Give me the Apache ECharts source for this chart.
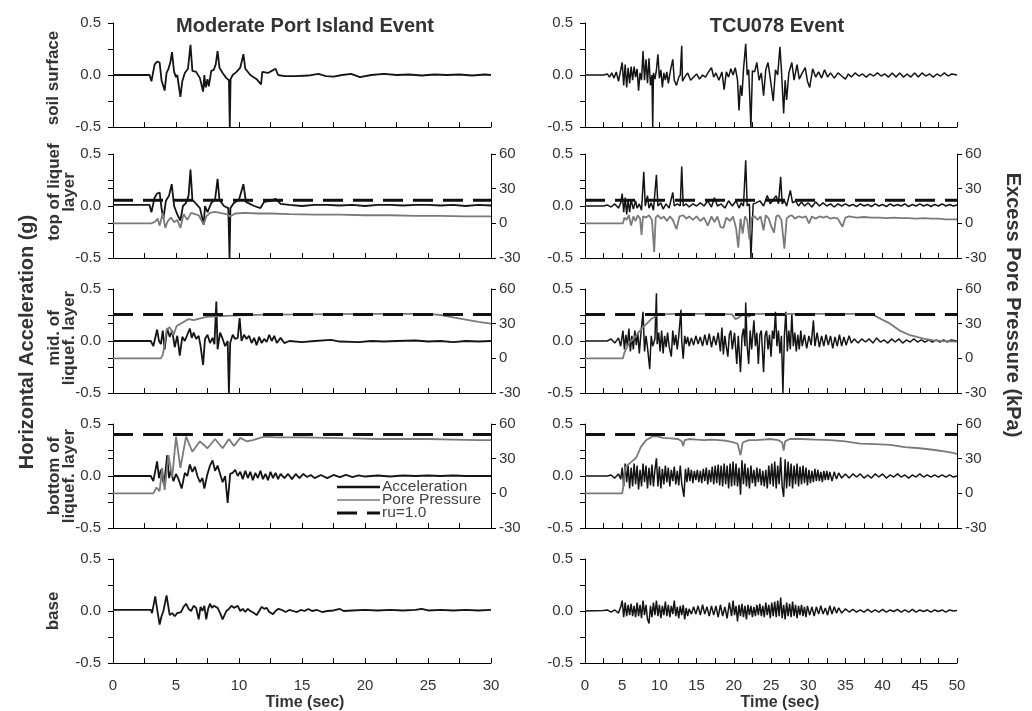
<!DOCTYPE html>
<html><head><meta charset="utf-8">
<script src="https://cdn.jsdelivr.net/npm/echarts@6/dist/echarts.min.js"></script>
<style>html,body{margin:0;padding:0;background:#fff}#c{width:1032px;height:711px}</style>
</head><body><div id="c"></div>
<script>
// ---------- text ----------
const titles = ['Moderate Port Island Event', 'TCU078 Event'];
const rowLabels = [['soil surface'], ['top of liquef', 'layer'], ['mid. of', 'liquef. layer'], ['bottom of', 'liquef. layer'], ['base']];
const yTitleLeft = 'Horizontal Acceleration (g)';
const yTitleRight = 'Excess Pore Pressure (kPa)';
const xTitle = 'Time (sec)';
const legendNames = ['Acceleration', 'Pore Pressure', 'ru=1.0'];
// ---------- ticks ----------
const accTickLabels = ['-0.5', '0.0', '0.5'];
const ppTickLabels = ['-30', '0', '30', '60'];
const timeTickLabelsL = ['0', '5', '10', '15', '20', '25', '30'];
const timeTickLabelsR = ['0', '5', '10', '15', '20', '25', '30', '35', '40', '45', '50'];
const timeMax = [30, 50];
// ru = 1.0 levels (kPa) for rows 2-4
const ruLevels = [null, 20, 38, 51, null];

// ---------- Moderate Port Island Event (left) ----------
const accL1 = [[0,0],[2.9,0],[3.05,-0.06],[3.3,0.1],[3.5,0.13],[3.7,0.12],[3.85,-0.05],[4.1,-0.15],[4.25,0.02],[4.4,0.06],[4.55,0.12],[4.68,0.22],[4.85,0.03],[5.0,-0.02],[5.1,0.0],[5.35,-0.21],[5.5,-0.06],[5.7,0.02],[5.95,0.06],[6.15,0.29],[6.3,0.04],[6.6,0.03],[6.9,-0.03],[7.15,-0.16],[7.25,0.0],[7.35,-0.12],[7.5,-0.04],[7.6,-0.11],[7.8,0.04],[8.0,0.05],[8.15,0.1],[8.3,0.23],[8.45,0.07],[8.7,0.02],[9.0,-0.03],[9.2,-0.05],[9.27,-0.5],[9.33,-0.04],[9.5,0.0],[9.8,0.03],[10.1,0.07],[10.35,0.2],[10.5,0.06],[10.9,0.0],[11.4,-0.04],[11.75,-0.09],[11.85,0.03],[12.3,0.02],[12.6,0.04],[12.9,0.06],[13.1,0.0],[13.6,-0.01],[14.5,-0.01],[15.5,-0.005],[16.3,0.01],[16.9,-0.01],[17.5,-0.015],[18.2,0.0],[18.9,0.01],[19.6,-0.02],[20.5,0.0],[21.5,0.01],[22.5,0.0],[23.5,0.005],[24.5,-0.005],[25.5,0.005],[26.5,0.0],[27.5,0.005],[28.5,-0.005],[29.5,0.005],[30,0.0]];
const accL2 = [[0,0.01],[2.9,0.01],[3.05,-0.06],[3.3,0.08],[3.5,0.12],[3.7,0.13],[3.85,-0.02],[4.0,-0.12],[4.2,0.05],[4.45,0.1],[4.66,0.21],[4.85,0.0],[5.1,-0.08],[5.35,-0.14],[5.55,0.0],[5.8,0.03],[6.0,0.1],[6.15,0.35],[6.3,0.06],[6.6,0.02],[6.9,-0.02],[7.2,-0.18],[7.3,0.0],[7.5,-0.06],[7.8,0.03],[8.1,0.06],[8.3,0.26],[8.45,0.06],[8.8,0.0],[9.15,-0.02],[9.25,-0.5],[9.32,-0.02],[9.6,0.03],[10.0,0.06],[10.35,0.21],[10.55,0.04],[11.2,0.0],[11.7,-0.02],[12.0,0.04],[12.5,0.05],[12.9,0.07],[13.3,0.02],[14,0.01],[15,0.0],[16,0.01],[17,0.01],[18,0.005],[19,0.01],[20,0.0],[21,0.01],[22,0.01],[23,0.005],[24,0.01],[25,0.01],[26,0.005],[27,0.01],[28,0.0],[29,0.01],[30,0.005]];
const ppL2 = [[0,0],[3.0,0],[3.3,1],[3.55,4],[3.7,-2],[3.95,9],[4.15,-4],[4.35,2],[4.6,5],[4.85,1],[5.1,3],[5.35,-4],[5.6,8],[5.9,3],[6.2,9],[6.5,8],[6.8,7],[7.2,-1],[7.4,6],[7.7,9],[8.1,10],[8.5,9],[9.0,8],[9.3,6],[9.7,8.5],[10.5,9],[11.5,8.5],[12.5,8.5],[14,8],[16,7.5],[18,7.5],[20,7],[22,7],[24,6.5],[26,6.5],[28,6],[30,6]];
const accL3 = [[0,0],[3.0,0],[3.2,-0.05],[3.5,0.11],[3.65,0.0],[3.8,-0.03],[3.95,0.1],[4.1,-0.08],[4.3,0.12],[4.5,0.04],[4.7,0.1],[4.9,-0.06],[5.1,0.05],[5.3,-0.14],[5.5,0.04],[5.7,0.0],[5.9,0.06],[6.1,0.12],[6.25,0.03],[6.4,0.08],[6.6,0.02],[6.8,0.05],[6.95,-0.05],[7.15,-0.23],[7.3,0.02],[7.5,0.06],[7.7,-0.02],[7.9,0.03],[8.05,-0.03],[8.2,0.38],[8.3,-0.08],[8.5,0.08],[8.7,0.02],[8.9,-0.05],[9.1,0.0],[9.2,-0.5],[9.3,-0.02],[9.5,0.06],[9.7,0.02],[9.9,0.03],[10.05,0.22],[10.2,0.0],[10.4,0.06],[10.6,0.02],[10.8,0.05],[11.0,-0.02],[11.2,0.03],[11.4,-0.04],[11.6,0.04],[11.8,-0.02],[12.0,0.02],[12.2,-0.01],[12.4,0.06],[12.6,0.0],[12.8,0.05],[13.0,-0.02],[13.3,0.03],[13.6,-0.02],[14.0,0.0],[15,-0.01],[16,0.0],[17.3,0.01],[18,-0.005],[19.5,-0.01],[20.5,0.0],[21.5,-0.005],[22.5,0.0],[24,0.005],[25,-0.005],[26,0.0],[27,-0.01],[28,0.0],[29,-0.005],[30,0.0]];
const ppL3 = [[0,0],[3.8,0],[3.95,3],[4.1,12],[4.26,25],[4.5,27],[4.8,20],[5.05,28],[5.6,31.5],[6.0,34],[6.4,33],[7.4,35.8],[8.5,36.5],[10,37.2],[12,37.8],[15,38],[20,38.5],[25,38.5],[26,37.5],[27,35.5],[28,33.5],[29,31.5],[30,30]];
const accL4 = [[0,0],[3.0,0],[3.2,-0.05],[3.5,0.14],[3.65,-0.02],[3.8,0.06],[4.05,-0.09],[4.3,0.2],[4.45,-0.02],[4.6,0.05],[4.8,-0.05],[5.0,0.02],[5.2,-0.03],[5.45,-0.12],[5.7,0.03],[5.9,0.0],[6.1,0.11],[6.3,0.04],[6.5,0.09],[6.7,0.0],[6.9,-0.06],[7.1,-0.02],[7.25,-0.12],[7.5,0.02],[7.7,0.1],[7.9,0.15],[8.1,0.05],[8.3,0.1],[8.5,0.02],[8.7,-0.06],[8.9,0.0],[9.1,-0.26],[9.3,0.02],[9.5,0.03],[9.7,0.06],[9.9,0.0],[10.1,0.04],[10.3,-0.03],[10.5,0.05],[10.7,-0.02],[10.9,0.04],[11.1,-0.04],[11.3,0.03],[11.5,-0.02],[11.7,0.05],[11.9,-0.03],[12.1,0.02],[12.3,-0.04],[12.5,0.04],[12.7,-0.02],[12.9,0.03],[13.1,-0.03],[13.3,0.02],[13.6,-0.02],[13.9,0.02],[14.2,-0.03],[14.5,0.02],[14.8,-0.02],[15.1,0.02],[15.4,-0.01],[15.7,0.01],[16.0,-0.02],[16.5,0.01],[17.0,-0.02],[17.5,0.01],[18.0,-0.01],[18.5,0.01],[19.0,-0.01],[19.5,0.005],[20,-0.005],[21,0.005],[22,-0.005],[23,0.005],[24,0.0],[25,0.005],[26,0.0],[27,0.005],[28,0.0],[29,0.0],[30,0.0]];
const ppL4 = [[0,0],[3.2,0],[3.45,5],[3.7,2],[3.9,22],[4.1,3],[4.4,33],[4.7,14],[5.0,49],[5.35,22],[5.8,49],[6.3,36],[6.9,45],[7.5,39],[8.1,47],[8.7,39],[9.2,47],[9.6,41],[10.1,48],[10.6,45],[11.1,46],[12,49],[13,48.5],[15,48.5],[17,48],[19,47.5],[21,47],[23,47],[25,47],[27,46.5],[29,46],[30,46]];
const accL5 = [[0,0.01],[3.0,0.01],[3.1,-0.02],[3.35,0.14],[3.5,0.02],[3.7,-0.13],[3.85,-0.05],[4.0,0.0],[4.25,0.15],[4.5,-0.04],[4.7,-0.02],[4.9,-0.05],[5.1,-0.02],[5.4,-0.01],[5.6,0.04],[5.8,0.07],[6.0,0.02],[6.2,0.0],[6.4,0.05],[6.6,0.03],[6.8,-0.08],[6.95,0.04],[7.1,0.0],[7.25,0.05],[7.4,-0.08],[7.55,0.02],[7.7,0.07],[7.85,0.03],[8.0,0.05],[8.3,0.03],[8.5,-0.02],[8.7,-0.08],[8.85,-0.04],[9.0,0.0],[9.2,0.02],[9.4,0.05],[9.6,0.03],[9.9,0.05],[10.1,0.0],[10.3,0.02],[10.5,-0.01],[10.7,0.02],[10.9,0.0],[11.2,-0.02],[11.4,-0.04],[11.6,0.0],[11.8,0.04],[12.0,0.02],[12.2,0.03],[12.4,-0.01],[12.7,-0.03],[12.9,0.0],[13.1,0.02],[13.4,0.01],[13.7,-0.01],[14.0,0.01],[14.3,0.0],[14.6,-0.01],[14.9,0.01],[15.2,0.0],[15.5,0.02],[15.8,0.0],[16.2,0.01],[16.6,-0.01],[17.0,0.0],[17.5,0.005],[18.0,0.02],[18.3,0.0],[19,0.005],[20,0.01],[21,0.005],[22,0.01],[23,0.005],[24,0.01],[24.5,0.02],[25,0.005],[26,0.01],[27,0.005],[28,0.01],[29,0.005],[30,0.01]];

// ---------- TCU078 Event (right) ----------
const accR1 = [[0,0],[2.5,0],[3.0,0.01],[3.3,-0.02],[3.6,0.02],[3.9,-0.03],[4.2,0.03],[4.5,-0.06],[4.8,0.05],[5.0,0.12],[5.2,-0.1],[5.4,0.1],[5.6,-0.12],[5.8,0.07],[6.0,-0.08],[6.2,0.08],[6.4,-0.05],[6.6,0.08],[6.8,-0.02],[7.0,0.06],[7.2,-0.15],[7.4,0.02],[7.6,-0.05],[7.8,0.23],[8.0,-0.05],[8.2,0.15],[8.4,-0.08],[8.6,0.16],[8.8,-0.1],[9.0,0.0],[9.1,-0.5],[9.2,0.02],[9.4,-0.04],[9.6,0.05],[9.8,0.2],[10.0,-0.03],[10.2,0.05],[10.4,-0.12],[10.6,0.02],[10.8,-0.05],[11.0,0.03],[11.2,-0.08],[11.5,0.05],[11.8,0.15],[12.0,-0.05],[12.3,-0.1],[12.6,-0.02],[12.8,0.0],[13.0,0.28],[13.1,-0.06],[13.4,-0.02],[13.8,0.02],[14.2,-0.05],[14.6,-0.02],[15.0,0.01],[15.4,-0.04],[15.8,0.0],[16.2,-0.02],[16.6,0.03],[17.0,0.07],[17.3,-0.02],[17.6,0.02],[18.0,-0.05],[18.4,0.03],[18.7,-0.14],[19.0,0.03],[19.3,-0.02],[19.6,0.06],[19.9,0.0],[20.2,0.07],[20.5,-0.05],[20.7,-0.34],[20.9,-0.1],[21.1,-0.2],[21.3,0.05],[21.6,0.3],[21.8,0.0],[22.0,0.05],[22.3,-0.5],[22.5,0.04],[22.8,0.03],[23.1,0.12],[23.4,-0.05],[23.7,0.02],[24.0,-0.2],[24.3,0.05],[24.6,0.12],[24.9,-0.03],[25.3,-0.25],[25.6,0.05],[25.9,0.0],[26.2,0.27],[26.4,0.05],[26.7,-0.37],[26.9,-0.05],[27.1,-0.24],[27.4,0.02],[27.8,0.12],[28.1,-0.05],[28.5,0.1],[28.8,-0.04],[29.2,0.02],[29.6,0.07],[29.9,-0.06],[30.2,-0.12],[30.6,0.06],[31.0,-0.02],[31.4,0.03],[31.8,-0.03],[32.2,0.05],[32.6,-0.02],[33.0,0.02],[33.5,-0.03],[34.0,0.02],[34.5,-0.01],[35.0,-0.04],[35.4,0.01],[35.8,-0.02],[36.3,0.02],[36.8,-0.01],[37.3,0.01],[37.8,-0.02],[38.3,0.01],[38.8,-0.01],[39.3,0.02],[39.8,-0.01],[40.3,0.01],[40.8,-0.02],[41.3,0.02],[41.8,-0.02],[42.3,0.02],[42.8,-0.02],[43.3,0.01],[43.8,-0.02],[44.3,0.02],[44.8,-0.02],[45.3,0.02],[45.8,-0.01],[46.3,0.01],[46.8,-0.02],[47.3,0.01],[47.8,-0.01],[48.3,0.02],[48.8,-0.01],[49.3,0.01],[50,0.0]];
const accR2 = [[0,0],[2.5,0],[3.0,0.01],[3.5,-0.01],[4.0,0.02],[4.5,-0.02],[4.8,0.03],[5.0,0.12],[5.2,-0.06],[5.4,0.08],[5.6,-0.08],[5.8,0.06],[6.0,-0.06],[6.2,0.06],[6.5,-0.03],[6.8,0.05],[7.0,-0.02],[7.3,0.02],[7.6,-0.04],[7.9,0.33],[8.1,0.0],[8.4,0.1],[8.6,-0.02],[8.9,0.03],[9.2,-0.04],[9.6,0.3],[9.8,0.0],[10.2,0.03],[10.5,-0.03],[10.9,0.02],[11.3,-0.02],[11.8,0.13],[12.0,0.0],[12.4,0.02],[12.8,0.0],[13.0,0.38],[13.2,0.0],[13.6,0.02],[14.0,-0.01],[14.5,0.02],[15.0,0.0],[15.5,0.03],[16.0,0.0],[16.5,0.05],[17.0,-0.01],[17.4,0.08],[17.8,0.0],[18.3,0.02],[18.8,-0.02],[19.3,0.05],[19.8,0.0],[20.3,0.05],[20.7,-0.02],[21.0,0.03],[21.3,0.0],[21.6,0.44],[21.8,0.0],[22.1,0.02],[22.3,-0.5],[22.5,-0.5],[22.6,0.02],[23.0,0.03],[23.5,0.05],[24.0,0.0],[24.5,0.1],[24.9,0.02],[25.3,0.06],[25.7,0.1],[26.0,0.02],[26.3,0.28],[26.5,0.02],[26.8,0.05],[27.1,0.0],[27.6,0.15],[27.9,0.03],[28.3,0.05],[28.7,0.0],[29.1,0.04],[29.5,0.0],[30.0,0.03],[30.5,-0.01],[31.0,0.04],[31.5,0.0],[32.0,0.03],[32.5,0.0],[33.0,0.02],[33.5,-0.01],[34.0,0.02],[34.5,0.0],[35.0,0.02],[35.5,0.0],[36.0,0.015],[36.5,-0.005],[37.0,0.02],[37.5,0.0],[38.0,0.015],[38.5,-0.005],[39.0,0.02],[39.5,0.0],[40.0,0.015],[40.5,-0.005],[41.0,0.02],[41.5,0.0],[42.0,0.015],[42.5,0.0],[43.0,0.02],[43.5,-0.005],[44.0,0.015],[44.5,0.0],[45.0,0.02],[45.5,0.0],[46.0,0.015],[46.5,-0.005],[47.0,0.015],[47.5,0.0],[48.0,0.02],[48.5,0.0],[49.0,0.015],[49.5,0.0],[50,0.01]];
const ppR2 = [[0,0],[5.1,0],[5.3,5],[5.6,3],[5.9,7],[6.2,-2],[6.5,6],[6.8,2],[7.1,7],[7.4,4],[7.6,-10],[7.8,6],[8.2,5],[8.6,7],[9.0,3],[9.3,-25],[9.5,5],[9.8,7],[10.2,4],[10.6,6],[11.0,2],[11.4,6],[11.8,3],[12.3,-5],[12.7,6],[13.2,7],[13.6,4],[14.0,6],[14.5,3],[15.0,6],[15.5,2],[16.0,5],[16.5,-2],[17.0,6],[17.4,1],[17.8,6],[18.2,-3],[18.6,-4],[19.0,5],[19.5,2],[19.9,6],[20.3,-4],[20.6,-21],[20.9,4],[21.2,-9],[21.5,6],[21.8,3],[22.1,-14],[22.4,5],[22.8,6],[23.2,3],[23.6,6],[24.0,-6],[24.3,7],[24.7,4],[25.0,-2],[25.4,-8],[25.7,6],[26.0,7],[26.4,3],[26.8,-22],[27.1,4],[27.4,6],[27.8,7],[28.2,4],[28.7,6],[29.2,5],[29.7,6],[30.1,0],[30.5,6],[31.0,4],[31.5,6],[32.0,5],[32.5,6],[33.0,4],[33.5,5],[34.0,4],[34.6,-3],[35.0,5],[35.5,6],[36.5,5],[37.5,5.5],[38.5,5],[39.5,5],[40.5,4.5],[41.5,5],[42.5,4.5],[43.5,4.5],[44.5,4],[45.5,4.5],[46.5,4],[47.5,4],[48.5,3.5],[49.5,3.5],[50,3.5]];
const accR3 = [[0,0],[3.0,0],[3.5,0.02],[4.0,-0.02],[4.5,0.03],[4.8,-0.05],[5.1,0.1],[5.3,-0.08],[5.5,0.06],[5.7,-0.05],[5.9,0.12],[6.1,-0.1],[6.3,0.05],[6.5,-0.08],[6.7,0.1],[6.9,-0.04],[7.1,0.08],[7.3,-0.12],[7.5,0.06],[7.8,0.28],[8.0,-0.1],[8.2,0.05],[8.4,-0.06],[8.7,-0.27],[8.9,0.05],[9.1,-0.05],[9.4,0.02],[9.6,0.46],[9.7,-0.03],[9.9,0.08],[10.1,-0.1],[10.3,0.1],[10.5,-0.12],[10.7,0.05],[10.9,-0.06],[11.1,0.08],[11.3,-0.05],[11.6,-0.15],[11.8,0.1],[12.0,-0.04],[12.2,0.06],[12.4,-0.08],[12.6,0.05],[12.9,0.3],[13.0,0.0],[13.2,-0.17],[13.4,0.05],[13.6,-0.03],[13.8,0.04],[14.0,-0.05],[14.3,0.03],[14.6,-0.04],[14.9,0.05],[15.2,-0.03],[15.5,0.04],[15.8,-0.05],[16.1,0.06],[16.4,-0.04],[16.7,0.07],[17.0,-0.06],[17.3,0.05],[17.6,-0.04],[17.9,0.08],[18.2,-0.1],[18.4,0.13],[18.6,-0.13],[18.8,0.05],[19.0,-0.06],[19.2,-0.15],[19.4,0.06],[19.6,0.1],[19.8,-0.08],[20.1,0.08],[20.4,-0.22],[20.6,0.05],[20.9,-0.3],[21.1,0.04],[21.3,0.12],[21.5,-0.05],[21.6,0.37],[21.8,-0.05],[22.0,-0.22],[22.2,0.1],[22.4,-0.08],[22.7,0.2],[22.9,-0.05],[23.1,0.08],[23.3,-0.22],[23.5,0.06],[23.7,0.1],[24.0,-0.3],[24.2,0.05],[24.4,0.1],[24.6,-0.08],[24.8,0.06],[25.0,-0.15],[25.2,0.1],[25.4,0.02],[25.6,0.28],[25.8,-0.05],[26.0,0.1],[26.2,-0.12],[26.4,0.05],[26.6,-0.5],[26.7,-0.5],[26.8,0.05],[27.0,0.28],[27.2,-0.1],[27.4,0.1],[27.6,-0.08],[27.8,0.26],[28.0,-0.05],[28.2,0.08],[28.4,-0.1],[28.6,0.06],[28.8,-0.08],[29.0,0.1],[29.2,-0.05],[29.5,0.06],[29.8,-0.07],[30.1,0.05],[30.4,-0.04],[30.7,0.2],[30.9,-0.05],[31.2,0.08],[31.5,-0.06],[31.8,0.05],[32.1,-0.05],[32.4,0.06],[32.7,-0.04],[33.0,0.05],[33.3,-0.07],[33.6,0.04],[33.9,-0.05],[34.2,0.06],[34.5,-0.05],[34.8,0.04],[35.1,-0.04],[35.5,0.05],[35.8,-0.02],[36.2,0.02],[36.7,-0.02],[37.2,0.02],[37.7,-0.01],[38.2,0.02],[38.7,-0.02],[39.2,0.03],[39.7,-0.01],[40.2,0.01],[40.7,-0.02],[41.2,0.02],[41.7,-0.01],[42.2,0.02],[42.7,-0.02],[43.2,0.01],[43.7,-0.01],[44.2,0.02],[44.7,-0.01],[45.2,0.01],[45.7,-0.01],[46.2,0.01],[46.7,-0.01],[47.2,0.01],[47.7,-0.01],[48.2,0.01],[48.7,-0.01],[49.2,0.01],[50,0]];
const ppR3 = [[0,0],[5.1,0],[5.3,5],[5.6,9],[6.0,14],[6.4,16],[6.9,20],[7.4,24],[7.8,27],[8.3,30],[8.9,34],[9.4,36],[9.8,37.5],[10.5,38],[12,38.5],[14,38.5],[16,38.5],[18,38.5],[19.8,38],[20.2,34],[20.6,35],[21.0,37],[21.5,38],[22,36],[22.5,38],[23,38.5],[25,38.5],[27,38.5],[29,38.5],[31,38.5],[33,38.5],[35,38.5],[37,38.5],[38.5,38.5],[39.5,35],[41,30],[42.3,24],[43.7,20],[45.5,17],[46.8,15.5],[48,15],[50,14.5]];
const accR4 = [[0,0],[3.0,0],[3.5,0.01],[4.0,-0.02],[4.5,0.02],[4.8,-0.03],[5.0,0.08],[5.2,-0.1],[5.4,0.12],[5.6,-0.06],[5.8,0.1],[6.0,-0.12],[6.2,0.08],[6.4,-0.1],[6.6,0.12],[6.8,-0.08],[7.0,0.1],[7.2,-0.13],[7.4,0.06],[7.6,-0.1],[7.8,0.12],[8.0,-0.06],[8.2,0.1],[8.4,-0.12],[8.6,0.08],[8.8,-0.09],[9.0,0.11],[9.2,-0.1],[9.4,0.06],[9.6,0.17],[9.8,-0.1],[10.0,0.09],[10.2,-0.12],[10.4,0.07],[10.6,-0.08],[10.8,0.1],[11.0,-0.06],[11.2,0.08],[11.4,-0.1],[11.6,0.06],[11.8,-0.05],[12.0,0.09],[12.2,-0.08],[12.4,0.05],[12.6,-0.09],[12.8,0.1],[13.0,-0.07],[13.3,-0.2],[13.5,0.07],[13.7,-0.06],[13.9,0.08],[14.1,-0.05],[14.3,0.06],[14.5,-0.07],[14.7,0.05],[14.9,-0.04],[15.1,0.06],[15.3,-0.06],[15.5,0.05],[15.7,-0.07],[15.9,0.07],[16.1,-0.05],[16.3,0.08],[16.5,-0.08],[16.7,0.06],[16.9,-0.06],[17.1,0.09],[17.3,-0.08],[17.5,0.1],[17.7,-0.07],[17.9,0.11],[18.1,-0.09],[18.3,0.1],[18.5,-0.1],[18.7,0.12],[18.9,-0.08],[19.1,0.1],[19.3,-0.12],[19.5,0.12],[19.7,-0.1],[19.9,0.14],[20.1,-0.09],[20.3,0.12],[20.5,-0.1],[20.7,0.08],[20.9,-0.18],[21.1,0.15],[21.3,-0.08],[21.5,0.12],[21.7,-0.1],[21.9,0.08],[22.1,-0.12],[22.3,0.1],[22.5,-0.07],[22.7,0.06],[22.9,-0.1],[23.1,0.08],[23.3,-0.06],[23.5,0.07],[23.7,-0.09],[23.9,0.05],[24.1,-0.1],[24.3,0.06],[24.5,-0.12],[24.7,0.1],[24.9,-0.08],[25.1,0.12],[25.3,-0.1],[25.5,0.14],[25.7,-0.12],[25.9,0.1],[26.1,-0.08],[26.3,0.18],[26.5,-0.1],[26.7,-0.2],[26.9,0.16],[27.1,-0.12],[27.3,0.14],[27.5,-0.1],[27.7,0.12],[27.9,-0.12],[28.1,0.1],[28.3,-0.08],[28.5,0.12],[28.7,-0.1],[28.9,0.09],[29.1,-0.08],[29.3,0.1],[29.5,-0.07],[29.7,0.08],[29.9,-0.09],[30.1,0.06],[30.3,-0.07],[30.5,0.05],[30.7,-0.06],[30.9,0.07],[31.1,-0.05],[31.3,0.06],[31.5,-0.05],[31.7,0.04],[31.9,-0.06],[32.1,0.05],[32.3,-0.04],[32.5,0.05],[32.7,-0.04],[32.9,0.04],[33.2,-0.05],[33.5,0.04],[33.8,-0.03],[34.1,0.03],[34.5,-0.02],[35.0,0.02],[35.5,-0.02],[36.0,0.02],[36.5,-0.01],[37.0,0.02],[37.5,-0.02],[38.0,0.01],[38.5,-0.02],[39.0,0.02],[39.5,-0.01],[40.0,0.02],[40.5,-0.02],[41.0,0.01],[41.5,-0.01],[42.0,0.02],[42.5,-0.01],[43.0,0.01],[43.5,-0.02],[44.0,0.01],[44.5,-0.01],[45.0,0.02],[45.5,-0.01],[46.0,0.01],[46.5,-0.01],[47.0,0.01],[47.5,-0.01],[48.0,0.01],[48.5,-0.01],[49.0,0.01],[49.5,-0.01],[50,0]];
const ppR4 = [[0,0],[5.0,0],[5.2,8],[5.4,22],[5.8,25],[6.2,27],[6.9,31],[7.5,40],[8.2,46],[9.0,49],[9.5,49.5],[10.5,48],[11.5,47.5],[12.5,47],[13.0,45],[13.2,41],[13.4,46],[14,47],[15,46.5],[16,46],[17,46.5],[18,46],[19,45.5],[20,44],[20.5,43],[20.9,33],[21.2,44],[22,46],[23,46],[24,46.5],[25,47],[26,46],[26.5,44],[26.7,37],[26.9,45],[27.5,47],[29,47],[31,46.5],[33,46],[35,45],[37,43],[39,42.5],[41,42],[43,40],[45,39],[47,37.5],[48.5,36],[49.5,35],[50,34]];
const accR5 = [[0,0],[2.5,0.005],[3.0,0.01],[3.5,-0.01],[4.0,0.01],[4.5,-0.02],[4.8,0.04],[5.0,0.1],[5.2,-0.06],[5.4,0.08],[5.6,-0.05],[5.8,0.06],[6.0,-0.04],[6.2,0.07],[6.4,-0.05],[6.6,0.05],[6.8,-0.06],[7.0,0.08],[7.2,-0.05],[7.4,0.06],[7.6,-0.07],[7.8,0.1],[8.0,-0.04],[8.2,0.06],[8.4,-0.08],[8.6,-0.12],[8.8,0.05],[9.0,-0.06],[9.2,0.08],[9.4,-0.04],[9.6,0.1],[9.8,-0.05],[10.0,0.06],[10.2,-0.07],[10.4,0.05],[10.6,-0.04],[10.8,0.09],[11.0,-0.05],[11.2,0.06],[11.4,-0.06],[11.6,0.05],[11.8,-0.03],[12.0,0.1],[12.2,-0.05],[12.4,0.04],[12.6,-0.07],[12.8,0.05],[13.0,-0.04],[13.2,0.06],[13.4,-0.08],[13.6,0.03],[13.8,-0.05],[14.0,0.02],[14.3,-0.03],[14.6,0.04],[14.9,-0.03],[15.2,0.05],[15.5,-0.04],[15.8,0.06],[16.1,-0.03],[16.4,0.04],[16.7,-0.05],[17.0,0.05],[17.3,-0.04],[17.6,0.05],[17.9,-0.06],[18.2,0.06],[18.5,-0.05],[18.8,0.04],[19.1,-0.07],[19.4,0.08],[19.7,-0.05],[19.9,0.1],[20.1,-0.04],[20.3,0.05],[20.5,-0.1],[20.7,0.06],[20.9,-0.05],[21.1,0.07],[21.3,-0.06],[21.5,0.05],[21.7,-0.08],[21.9,0.06],[22.1,-0.04],[22.3,0.05],[22.5,-0.06],[22.7,0.04],[22.9,-0.05],[23.1,0.06],[23.3,-0.04],[23.5,0.07],[23.7,-0.05],[23.9,0.05],[24.1,-0.06],[24.3,0.08],[24.5,-0.04],[24.7,0.06],[24.9,-0.07],[25.1,0.08],[25.3,-0.05],[25.5,0.09],[25.7,-0.06],[25.9,0.1],[26.1,-0.05],[26.3,0.13],[26.5,-0.07],[26.7,0.06],[26.9,-0.08],[27.1,0.08],[27.3,-0.05],[27.5,0.07],[27.7,-0.06],[27.9,0.09],[28.1,-0.05],[28.3,0.06],[28.5,-0.07],[28.7,0.05],[28.9,-0.04],[29.1,0.06],[29.3,-0.05],[29.5,0.04],[29.7,-0.06],[29.9,0.05],[30.2,-0.04],[30.5,0.04],[30.8,-0.05],[31.1,0.04],[31.4,-0.03],[31.7,0.05],[32.0,-0.03],[32.3,0.03],[32.6,-0.04],[32.9,0.05],[33.2,-0.03],[33.5,0.04],[33.8,-0.02],[34.1,0.03],[34.5,-0.02],[35.0,0.02],[35.5,-0.01],[36.0,0.015],[36.5,-0.01],[37.0,0.01],[37.5,-0.01],[38.0,0.015],[38.5,-0.01],[39.0,0.01],[39.5,-0.01],[40.0,0.015],[40.5,-0.01],[41.0,0.01],[41.5,-0.005],[42.0,0.015],[42.5,-0.01],[43.0,0.01],[43.5,-0.01],[44.0,0.015],[44.5,-0.01],[45.0,0.01],[45.5,-0.005],[46.0,0.01],[46.5,-0.01],[47.0,0.01],[47.5,-0.005],[48.0,0.01],[48.5,-0.01],[49.0,0.01],[49.5,0.0],[50,0.005]];

const accData = [[accL1, accL2, accL3, accL4, accL5], [accR1, accR2, accR3, accR4, accR5]];
const ppData = [[null, ppL2, ppL3, ppL4, null], [null, ppR2, ppR3, ppR4, null]];

// ---------- layout / style ----------
const FONT = '"Liberation Sans", Arial, sans-serif';
const TXT = '#333';
const colLeft = [113, 585], colWidth = [378, 372];
const rowTop = [23, 154, 289, 424, 559], rowH = 104;
const ACC_COLOR = '#141414', PP_COLOR = '#7a7a7a';
const accWidth = [1.8, 1.5];
const DASH = [20, 10];

const grid = [], xAxis = [], yAxis = [], series = [];
const fmtAcc = v => { const s = v.toFixed(1) === '-0.0' ? '0.0' : v.toFixed(1); return accTickLabels.includes(s) && Math.abs(v * 2 - Math.round(v * 2)) < 1e-6 ? s : ''; };
const fmtPP = v => { const s = String(Math.round(v)); return ppTickLabels.includes(s) ? s : ''; };

for (let c = 0; c < 2; c++) {
  const tLabels = c === 0 ? timeTickLabelsL : timeTickLabelsR;
  for (let r = 0; r < 5; r++) {
    const g = grid.length;
    grid.push({ left: colLeft[c], top: rowTop[r], width: colWidth[c], height: rowH });
    xAxis.push({
      gridIndex: g, type: 'value', min: 0, max: timeMax[c], interval: 2.5,
      axisLine: { onZero: false, lineStyle: { color: '#000', width: 1 } },
      axisTick: { show: true, inside: true, length: 5, lineStyle: { color: '#000' } },
      axisLabel: { show: r === 4, margin: 15, color: TXT, fontSize: 15, fontFamily: FONT,
        formatter: v => { const s = String(v); return tLabels.includes(s) ? s : ''; } },
      splitLine: { show: false }
    });
    const yi = yAxis.length;
    yAxis.push({
      gridIndex: g, type: 'value', min: -0.5, max: 0.5, interval: 0.25, position: 'left',
      axisLine: { show: true, onZero: false, lineStyle: { color: '#000', width: 1 } },
      axisTick: { show: true, length: 5, lineStyle: { color: '#000' } },
      axisLabel: { margin: 12, color: TXT, fontSize: 15, fontFamily: FONT, formatter: fmtAcc },
      splitLine: { show: false }
    });
    series.push({
      type: 'line', xAxisIndex: g, yAxisIndex: yi, data: accData[c][r], showSymbol: false, symbol: 'none',
      lineStyle: { color: ACC_COLOR, width: accWidth[c] }, z: 3, silent: true
    });
    if (ppData[c][r]) {
      const yp = yAxis.length;
      yAxis.push({
        gridIndex: g, type: 'value', min: -30, max: 60, interval: 30, position: 'right',
        axisLine: { show: true, onZero: false, lineStyle: { color: '#000', width: 1 } },
        axisTick: { show: true, length: 5, lineStyle: { color: '#000' } },
        axisLabel: { margin: 8, color: TXT, fontSize: 15, fontFamily: FONT, formatter: fmtPP },
        splitLine: { show: false }
      });
      yAxis.push({
        gridIndex: g, type: 'value', min: -30, max: 60, interval: 30, position: 'right',
        axisLine: { show: false }, axisTick: { show: true, inside: true, length: 5, lineStyle: { color: '#000' } },
        axisLabel: { show: false }, splitLine: { show: false }
      });
      series.push({
        type: 'line', xAxisIndex: g, yAxisIndex: yp, data: ppData[c][r], showSymbol: false, symbol: 'none',
        lineStyle: { color: PP_COLOR, width: 1.8 }, z: 4, silent: true
      });
      series.push({
        type: 'line', xAxisIndex: g, yAxisIndex: yp, data: [[0, ruLevels[r]], [timeMax[c], ruLevels[r]]],
        showSymbol: false, symbol: 'none', lineStyle: { color: '#111', width: 3, type: DASH }, z: 5, silent: true
      });
    }
  }
}

// ---------- texts ----------
const graphic = [];
const txt = (x, y, text, size, bold, rot, lh) => graphic.push({
  type: 'text', x, y, rotation: rot || 0, silent: true,
  style: { text, fontSize: size, fontWeight: bold ? 'bold' : 'normal', fontFamily: FONT, fill: TXT,
    align: 'center', verticalAlign: 'middle', lineHeight: lh || size }
});
txt(305, 26, titles[0], 20, true);
txt(777, 26, titles[1], 20, true);
const rowLabelY = [78, 192, 338, 476, 611];
rowLabels.forEach((lines, r) => txt(lines.length > 1 ? 62 : 53, rowLabelY[r], lines.join('\n'), 17, true, Math.PI / 2, 15));
txt(27, 342, yTitleLeft, 20, true, Math.PI / 2);
txt(1013, 305, yTitleRight, 20, true, -Math.PI / 2);
txt(305, 703, xTitle, 16, true);
txt(780, 703, xTitle, 16, true);
// legend (inside bottom-of-liquefied-layer panel)
const lgX = 337, lgW = 43, lgY = [487, 500, 513];
graphic.push({ type: 'line', silent: true, shape: { x1: lgX, y1: lgY[0], x2: lgX + lgW, y2: lgY[0] }, style: { stroke: ACC_COLOR, lineWidth: 2.5 } });
graphic.push({ type: 'line', silent: true, shape: { x1: lgX, y1: lgY[1], x2: lgX + lgW, y2: lgY[1] }, style: { stroke: PP_COLOR, lineWidth: 1.5 } });
graphic.push({ type: 'line', silent: true, shape: { x1: lgX, y1: lgY[2], x2: lgX + lgW, y2: lgY[2] }, style: { stroke: '#111', lineWidth: 3, lineDash: DASH } });
legendNames.forEach((n, i) => graphic.push({ type: 'text', silent: true, x: lgX + lgW + 2, y: lgY[i],
  style: { text: n, fontSize: 15.5, fontFamily: FONT, fill: '#444', align: 'left', verticalAlign: 'middle' } }));

const chart = echarts.init(document.getElementById('c'), null, { renderer: 'canvas' });
chart.setOption({ animation: false, backgroundColor: '#fff', grid, xAxis, yAxis, series, graphic });
</script></body></html>
